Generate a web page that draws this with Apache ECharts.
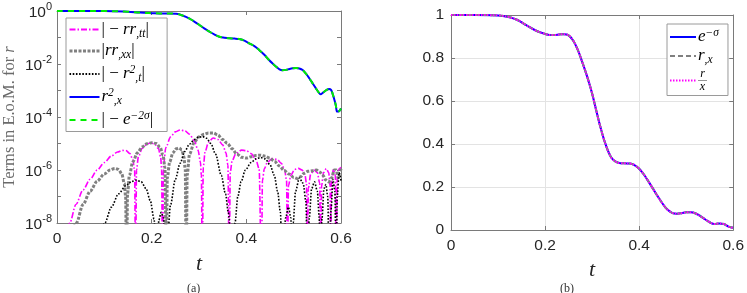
<!DOCTYPE html>
<html><head><meta charset="utf-8">
<script src="https://cdn.jsdelivr.net/npm/echarts@6/dist/echarts.min.js"></script>
<style>html,body{margin:0;padding:0;background:#fff}#c{width:747px;height:293px}</style>
</head><body><div id="c"></div>
<script>
// ---------- data ----------
// (a) upper curves: r_x^2 and |-e^{-2 sigma}| (identical)
const tTop = [0,0.05,0.1,0.15,0.175,0.2,0.217,0.235,0.252,0.265,0.28,0.29,0.301,0.311,0.322,0.333,0.343,0.354,0.364,0.375,0.385,0.396,0.406,0.417,0.427,0.438,0.448,0.456,0.463,0.47,0.476,0.484,0.491,0.498,0.505,0.512,0.519,0.526,0.533,0.54,0.547,0.552,0.557,0.562,0.568,0.575,0.579,0.582,0.586,0.589,0.592,0.596,0.6];
const vTop = [1,0.999,0.995,0.933,0.87,0.83,0.81,0.81,0.78,0.68,0.52,0.40,0.295,0.22,0.166,0.129,0.107,0.098,0.093,0.091,0.087,0.076,0.060,0.047,0.034,0.0224,0.0141,0.0102,0.0079,0.0063,0.0058,0.006,0.0065,0.0069,0.0071,0.0068,0.0059,0.0043,0.0029,0.00186,0.0012,0.00089,0.00072,0.00083,0.001,0.00115,0.00105,0.00078,0.00045,0.00028,0.00016,0.000166,0.00021];

// (a) |-r r_tt|
const tRtt = [0.010,0.027,0.040,0.055,0.070,0.085,0.100,0.115,0.128,0.138,0.146,0.154,0.160,0.164,0.166,0.168,0.172,0.180,0.190,0.198,0.206,0.214,0.219,0.221,0.223,0.225,0.230,0.240,0.250,0.260,0.270,0.280,0.290,0.298,0.303,0.305,0.307,0.309,0.313,0.320,0.330,0.340,0.350,0.357,0.361,0.364,0.366,0.370,0.378,0.390,0.400,0.410,0.420,0.427,0.432,0.434,0.438,0.445,0.455,0.465,0.474,0.481,0.485,0.487,0.489,0.494,0.502,0.510,0.518,0.524,0.527,0.529,0.531,0.536,0.543,0.550,0.555,0.557,0.559,0.563,0.569,0.574,0.577,0.578,0.580,0.584,0.588,0.590,0.592,0.596,0.600];
const vRtt = [3.2e-10,1.0e-8,5.0e-8,1.78e-7,4.47e-7,1.0e-6,1.91e-6,3.39e-6,4.79e-6,5.50e-6,5.37e-6,4.17e-6,2.51e-6,1.0e-6,1e-10,1.0e-6,3.16e-6,6.61e-6,9.55e-6,1.07e-5,9.55e-6,6.61e-6,3.16e-6,1.0e-6,1e-10,1.58e-6,7.08e-6,1.78e-5,2.75e-5,3.24e-5,3.02e-5,2.24e-5,1.26e-5,5.62e-6,2.0e-6,6.31e-7,1e-10,1.26e-6,5.01e-6,1.12e-5,1.62e-5,1.41e-5,8.91e-6,4.47e-6,1.58e-6,1e-10,7.94e-7,2.24e-6,4.17e-6,5.62e-6,5.37e-6,4.17e-6,2.51e-6,1.12e-6,1e-10,3.98e-7,1.12e-6,2.0e-6,2.69e-6,2.51e-6,1.78e-6,1.0e-6,3.98e-7,1e-10,2.51e-7,6.31e-7,1.05e-6,1.15e-6,1.0e-6,6.31e-7,3.16e-7,1e-10,2.0e-7,7.08e-7,1.0e-6,7.94e-7,3.16e-7,1e-10,2.51e-7,7.94e-7,1.12e-6,7.94e-7,2.51e-7,1e-10,3.98e-7,1.07e-6,6.31e-7,1e-10,5.01e-7,1.12e-6,1.26e-6];

// (a) |r r_xx|
const tRxx = [0.020,0.041,0.055,0.070,0.085,0.100,0.112,0.122,0.130,0.137,0.142,0.145,0.147,0.149,0.153,0.160,0.170,0.180,0.190,0.200,0.210,0.218,0.224,0.228,0.231,0.233,0.238,0.245,0.252,0.258,0.264,0.268,0.271,0.273,0.275,0.280,0.290,0.300,0.310,0.320,0.330,0.340,0.350,0.360,0.370,0.380,0.390,0.400,0.410,0.420,0.430,0.440,0.450,0.460,0.470,0.480,0.490,0.500,0.507,0.515,0.522,0.530,0.540,0.548,0.555,0.562,0.568,0.574,0.580,0.586,0.590,0.594,0.597,0.600];
const vRxx = [3.2e-10,1.0e-8,5.0e-8,1.58e-7,3.8e-7,7.08e-7,1.0e-6,1.15e-6,1.05e-6,7.08e-7,3.16e-7,1.0e-7,1e-10,1.26e-7,6.31e-7,2.0e-6,4.47e-6,7.41e-6,9.77e-6,1.07e-5,1.0e-5,7.08e-6,3.55e-6,1.26e-6,1e-10,5.01e-7,2.0e-6,4.47e-6,6.31e-6,6.76e-6,5.62e-6,3.16e-6,1.0e-6,1e-10,6.31e-7,3.98e-6,1.12e-5,1.78e-5,2.24e-5,2.51e-5,2.51e-5,2.09e-5,1.41e-5,1.0e-5,6.31e-6,3.98e-6,3.02e-6,2.82e-6,3.16e-6,3.55e-6,3.63e-6,3.31e-6,2.75e-6,2.09e-6,1.41e-6,9.55e-7,7.08e-7,5.25e-7,4.79e-7,5.62e-7,7.59e-7,8.91e-7,9.33e-7,1.0e-6,8.32e-7,6.31e-7,4.17e-7,3.55e-7,5.01e-7,1.0e-6,1.0e-6,5.01e-7,7.94e-7,1.12e-6];

// (a) |-r_t^2|
const tRt2 = [0.080,0.101,0.115,0.130,0.145,0.158,0.168,0.178,0.188,0.197,0.205,0.210,0.212,0.215,0.220,0.225,0.228,0.232,0.240,0.250,0.260,0.270,0.280,0.290,0.300,0.308,0.316,0.325,0.335,0.347,0.356,0.362,0.367,0.370,0.376,0.382,0.389,0.398,0.410,0.420,0.430,0.440,0.450,0.459,0.466,0.472,0.476,0.483,0.489,0.494,0.497,0.499,0.504,0.512,0.520,0.526,0.529,0.533,0.538,0.544,0.550,0.554,0.556,0.560,0.564,0.568,0.572,0.575,0.579,0.583,0.587,0.590,0.592,0.596,0.600];
const vRt2 = [3.2e-10,1.0e-8,3.98e-8,1.26e-7,2.51e-7,3.72e-7,4.17e-7,3.55e-7,2.0e-7,7.08e-8,1.41e-8,3.2e-10,1e-10,1.26e-8,2.51e-8,1.58e-8,1e-10,1e-9,5.0e-8,4.47e-7,1.78e-6,5.01e-6,9.55e-6,1.41e-5,1.74e-5,1.82e-5,1.58e-5,1.0e-5,3.98e-6,6.31e-7,1.26e-7,2.51e-8,3.16e-9,1e-10,1.0e-8,1.0e-7,3.63e-7,1.0e-6,1.91e-6,2.63e-6,2.95e-6,2.63e-6,1.58e-6,6.31e-7,1.58e-7,2.51e-8,1e-10,1.58e-8,3.98e-8,1.58e-8,1e-10,1.0e-8,1.58e-7,5.01e-7,3.16e-7,6.31e-8,1e-10,1.58e-8,2.0e-7,3.55e-7,1.58e-7,1.58e-8,1e-10,1.58e-8,2.0e-7,2.82e-7,1.0e-7,1e-10,3.16e-8,4.47e-7,1.58e-7,1e-10,1.0e-7,7.94e-7,3.98e-7];

// (b) e^{-sigma} = r_x = r/x (identical curves)
const tRight = [0,0.05,0.1,0.12,0.14,0.16,0.18,0.2,0.21,0.22,0.23,0.24,0.25,0.26,0.27,0.28,0.29,0.30,0.31,0.32,0.33,0.34,0.35,0.36,0.37,0.38,0.39,0.40,0.41,0.42,0.43,0.44,0.45,0.46,0.47,0.48,0.49,0.50,0.51,0.52,0.53,0.54,0.55,0.56,0.57,0.58,0.59,0.60];
const vRight = [1.0,1.0,0.998,0.992,0.978,0.953,0.928,0.912,0.907,0.907,0.909,0.911,0.905,0.88,0.835,0.775,0.71,0.635,0.545,0.46,0.39,0.34,0.318,0.311,0.31,0.309,0.302,0.285,0.258,0.225,0.19,0.155,0.122,0.095,0.08,0.076,0.078,0.082,0.082,0.077,0.065,0.05,0.036,0.028,0.03,0.028,0.016,0.01];

// tick labels
const xTicks = [0, 0.2, 0.4, 0.6];
const yTicksRight = [0, 0.2, 0.4, 0.6, 0.8, 1];
const logExpLabels = [0, -2, -4, -6, -8];

// ---------- chart ----------
function zip(t, v) { return t.map((x, i) => [x, v[i]]); }

const axisColor = '#7a7a7a';
const labelColor = '#262626';
const sansFont = 'Liberation Sans';
const serif = 'Liberation Serif';

const mathRich = {
  n: {fontFamily: serif, fontSize: 17, lineHeight: 20, color: '#000'},
  i: {fontFamily: serif, fontStyle: 'italic', fontSize: 17, lineHeight: 20, color: '#000'},
  sub: {fontFamily: serif, fontStyle: 'italic', fontSize: 11.5, lineHeight: 10, verticalAlign: 'bottom', color: '#000'},
  sup: {fontFamily: serif, fontStyle: 'italic', fontSize: 11.5, lineHeight: 10, verticalAlign: 'top', color: '#000'},
  fn: {fontFamily: serif, fontStyle: 'italic', fontSize: 12, lineHeight: 9, align: 'center', color: '#000'},
  bar: {fontFamily: serif, fontSize: 9, lineHeight: 3, align: 'center', color: '#000'},
  fd: {fontFamily: serif, fontStyle: 'italic', fontSize: 12, lineHeight: 10, align: 'center', color: '#000'}
};

const N = {
  rtt: '|-rr,tt|', rxx: '|rr,xx|', rt2: '|-r_t^2|', rx2: 'r_x^2', e2s: '|-e^-2s|',
  es: 'e^-s', rx: 'r,x', rox: 'r/x'
};
const legendText = {};
legendText[N.rtt] = '{n||}{n| − }{i|rr}{sub|,tt}{n||}';
legendText[N.rxx] = '{n||}{i|rr}{sub|,xx}{n||}';
legendText[N.rt2] = '{n||}{n| − }{i|r}{sup|2}{sub|,t}{n||}';
legendText[N.rx2] = '{i|r}{sup|2}{sub|,x}';
legendText[N.e2s] = '{n||}{n| − }{i|e}{sup|−2σ}{n||}';
legendText[N.es] = '{i|e}{sup|−σ}';
legendText[N.rx] = '{i|r}{sub|,x}';
legendText[N.rox] = '{fn|r}\n{bar|—}\n{fd|x}';

const tickLabel = {color: labelColor, fontFamily: sansFont, fontSize: 15.5};

function mirrorX(grid, pos, min, max, interval) {
  return {type: 'value', gridIndex: grid, position: pos, min: min, max: max, interval: interval,
    axisLine: {show: true, onZero: false, lineStyle: {color: axisColor, width: 1}},
    axisTick: {show: true, inside: true, length: 4, lineStyle: {color: axisColor}},
    axisLabel: {show: false}, splitLine: {show: false}};
}

const legendCommon = {
  orient: 'vertical', itemHeight: 12,
  backgroundColor: '#fff', borderColor: '#9a9a9a', borderWidth: 1, borderRadius: 0,
  selectedMode: false, formatter: name => legendText[name],
  itemStyle: {color: 'rgba(0,0,0,0)', borderWidth: 0, opacity: 0},
  textStyle: {rich: mathRich, padding: [0, 0, 0, -3]}
};

const option = {
  animation: false,
  backgroundColor: '#fff',
  title: [
    {text: '(a)', left: 182, top: 278, textStyle: {fontFamily: serif, fontSize: 12, fontWeight: 'normal', color: '#333'}},
    {text: '(b)', left: 555, top: 278, textStyle: {fontFamily: serif, fontSize: 12, fontWeight: 'normal', color: '#333'}}
  ],
  grid: [
    {left: 57, top: 11, width: 284, height: 212},
    {left: 451, top: 15, width: 283, height: 215}
  ],
  xAxis: [
    {type: 'value', gridIndex: 0, position: 'bottom', min: xTicks[0], max: xTicks[xTicks.length - 1], interval: xTicks[1] - xTicks[0],
      name: 't', nameLocation: 'middle', nameGap: 30,
      nameTextStyle: {fontFamily: serif, fontStyle: 'italic', fontSize: 22, color: labelColor},
      axisLine: {show: true, onZero: false, lineStyle: {color: axisColor, width: 1}},
      axisTick: {show: true, inside: true, length: 4, lineStyle: {color: axisColor}},
      axisLabel: Object.assign({margin: 8}, tickLabel), splitLine: {show: false}},
    mirrorX(0, 'top', xTicks[0], xTicks[xTicks.length - 1], xTicks[1] - xTicks[0]),
    {type: 'value', gridIndex: 1, position: 'bottom', min: xTicks[0], max: xTicks[xTicks.length - 1], interval: xTicks[1] - xTicks[0],
      name: 't', nameLocation: 'middle', nameGap: 27,
      nameTextStyle: {fontFamily: serif, fontStyle: 'italic', fontSize: 22, color: labelColor},
      axisLine: {show: true, onZero: false, lineStyle: {color: axisColor, width: 1}},
      axisTick: {show: true, inside: true, length: 4, lineStyle: {color: axisColor}},
      axisLabel: Object.assign({margin: 8}, tickLabel),
      splitLine: {show: true, lineStyle: {color: '#e3e3e3', width: 1}}},
    mirrorX(1, 'top', xTicks[0], xTicks[xTicks.length - 1], xTicks[1] - xTicks[0])
  ],
  yAxis: [
    {type: 'log', logBase: 10, gridIndex: 0, position: 'left',
      min: Math.pow(10, logExpLabels[logExpLabels.length - 1]), max: Math.pow(10, logExpLabels[0]), interval: 1,
      name: '{a|Terms in E.o.M. for }{i|r}', nameLocation: 'middle', nameRotate: 90, nameGap: 39,
      nameTextStyle: {rich: {
        a: {fontFamily: serif, fontSize: 16.5, color: '#6a6a6a'},
        i: {fontFamily: serif, fontStyle: 'italic', fontSize: 16.5, color: '#6a6a6a'}}},
      axisLine: {show: true, onZero: false, lineStyle: {color: axisColor, width: 1}},
      axisTick: {show: true, inside: true, length: 4, lineStyle: {color: axisColor}},
      axisLabel: {margin: 5,
        formatter: function (v) {
          const e = Math.round(Math.log10(v));
          return logExpLabels.indexOf(e) >= 0 ? '{b|10}{s|' + e + '}' : '';
        },
        rich: {
          b: {color: labelColor, fontFamily: sansFont, fontSize: 15.5, lineHeight: 20, verticalAlign: 'bottom'},
          s: {color: labelColor, fontFamily: sansFont, fontSize: 11, lineHeight: 10, verticalAlign: 'top'}
        }},
      splitLine: {show: false}},
    {type: 'log', logBase: 10, gridIndex: 0, position: 'right',
      min: Math.pow(10, logExpLabels[logExpLabels.length - 1]), max: Math.pow(10, logExpLabels[0]), interval: 1,
      axisLine: {show: true, onZero: false, lineStyle: {color: axisColor, width: 1}},
      axisTick: {show: true, inside: true, length: 4, lineStyle: {color: axisColor}},
      axisLabel: {show: false}, splitLine: {show: false}},
    {type: 'value', gridIndex: 1, position: 'left', min: yTicksRight[0], max: yTicksRight[yTicksRight.length - 1], interval: yTicksRight[1] - yTicksRight[0],
      axisLine: {show: true, onZero: false, lineStyle: {color: axisColor, width: 1}},
      axisTick: {show: true, inside: true, length: 4, lineStyle: {color: axisColor}},
      axisLabel: Object.assign({margin: 7}, tickLabel),
      splitLine: {show: true, lineStyle: {color: '#e3e3e3', width: 1}}},
    {type: 'value', gridIndex: 1, position: 'right', min: yTicksRight[0], max: yTicksRight[yTicksRight.length - 1], interval: yTicksRight[1] - yTicksRight[0],
      axisLine: {show: true, onZero: false, lineStyle: {color: axisColor, width: 1}},
      axisTick: {show: true, inside: true, length: 4, lineStyle: {color: axisColor}},
      axisLabel: {show: false}, splitLine: {show: false}}
  ],
  legend: [
    Object.assign({}, legendCommon, {
      data: [N.rtt, {name: N.rxx, lineStyle: {width: 3}}, N.rt2, N.rx2, N.e2s],
      left: 66, top: 18, itemWidth: 30, itemGap: 3, padding: [3, 14, 3, 2]}),
    Object.assign({}, legendCommon, {
      data: [N.es, N.rx, N.rox],
      left: 667, top: 24, itemWidth: 26, itemGap: 2, padding: [3, 9, 3, 2]})
  ],
  series: [
    {name: N.rtt, type: 'line', xAxisIndex: 0, yAxisIndex: 0, data: zip(tRtt, vRtt), symbol: 'none',
      smooth: 0.3, smoothMonotone: 'x', color: '#ff00ff', lineStyle: {color: '#ff00ff', width: 1.6, type: [6, 2, 1.5, 2]}},
    {name: N.rxx, type: 'line', xAxisIndex: 0, yAxisIndex: 0, data: zip(tRxx, vRxx), symbol: 'none',
      smooth: 0.3, smoothMonotone: 'x', color: '#808080', lineStyle: {color: '#808080', width: 3, type: [3, 1.5]}},
    {name: N.rt2, type: 'line', xAxisIndex: 0, yAxisIndex: 0, data: zip(tRt2, vRt2), symbol: 'none',
      smooth: 0.3, smoothMonotone: 'x', color: '#000', lineStyle: {color: '#000', width: 1.6, type: [1.6, 1.6]}},
    {name: N.rx2, type: 'line', xAxisIndex: 0, yAxisIndex: 0, data: zip(tTop, vTop), symbol: 'none',
      smooth: 0.4, color: '#0000ff', lineStyle: {color: '#0000ff', width: 2, type: 'solid'}},
    {name: N.e2s, type: 'line', xAxisIndex: 0, yAxisIndex: 0, data: zip(tTop, vTop), symbol: 'none',
      smooth: 0.4, color: '#00ee00', lineStyle: {color: '#00ee00', width: 2, type: [6, 5]}},
    {name: N.es, type: 'line', xAxisIndex: 2, yAxisIndex: 2, data: zip(tRight, vRight), symbol: 'none',
      smooth: 0.4, color: '#0000ff', lineStyle: {color: '#0000ff', width: 2, type: 'solid'}},
    {name: N.rx, type: 'line', xAxisIndex: 2, yAxisIndex: 2, data: zip(tRight, vRight), symbol: 'none',
      smooth: 0.4, color: '#808080', lineStyle: {color: '#808080', width: 2, type: [5, 3]}},
    {name: N.rox, type: 'line', xAxisIndex: 2, yAxisIndex: 2, data: zip(tRight, vRight), symbol: 'none',
      smooth: 0.4, color: '#ff00ff', lineStyle: {color: '#ff00ff', width: 2, type: [1.5, 1.5]}}
  ]
};

const chart = echarts.init(document.getElementById('c'), null, {renderer: 'canvas'});
chart.setOption(option);
</script></body></html>
